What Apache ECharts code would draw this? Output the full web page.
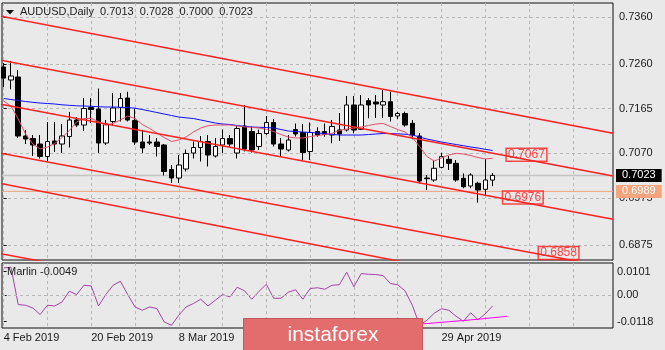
<!DOCTYPE html>
<html>
<head>
<meta charset="utf-8">
<script src="https://cdn.jsdelivr.net/npm/echarts@6/dist/echarts.min.js"></script>
<style>
  html, body { margin: 0; padding: 0; background: #e9e9e9; }
  #chart { width: 665px; height: 350px; }
</style>
</head>
<body>
<div id="chart"></div>
<script>
const symbolName = 'AUDUSD,Daily';

const dates = [
  '4 Feb 2019','5 Feb 2019','6 Feb 2019','7 Feb 2019','8 Feb 2019','11 Feb 2019','12 Feb 2019','13 Feb 2019','14 Feb 2019','15 Feb 2019',
  '18 Feb 2019','19 Feb 2019','20 Feb 2019','21 Feb 2019','22 Feb 2019','25 Feb 2019','26 Feb 2019','27 Feb 2019','28 Feb 2019',
  '1 Mar 2019','4 Mar 2019','5 Mar 2019','6 Mar 2019','7 Mar 2019','8 Mar 2019','11 Mar 2019','12 Mar 2019','13 Mar 2019','14 Mar 2019','15 Mar 2019',
  '18 Mar 2019','19 Mar 2019','20 Mar 2019','21 Mar 2019','22 Mar 2019','25 Mar 2019','26 Mar 2019','27 Mar 2019','28 Mar 2019','29 Mar 2019',
  '1 Apr 2019','2 Apr 2019','3 Apr 2019','4 Apr 2019','5 Apr 2019','8 Apr 2019','9 Apr 2019','10 Apr 2019','11 Apr 2019','12 Apr 2019',
  '15 Apr 2019','16 Apr 2019','17 Apr 2019','18 Apr 2019','19 Apr 2019','22 Apr 2019','23 Apr 2019','24 Apr 2019','25 Apr 2019','26 Apr 2019',
  '29 Apr 2019','30 Apr 2019','1 May 2019','2 May 2019','3 May 2019','6 May 2019','7 May 2019','8 May 2019'
];

// daily bars: open, close, low, high
const candles = [
  [0.72536,0.72300,0.72110,0.72620],[0.72260,0.72345,0.72062,0.72664],[0.72323,0.71068,0.71026,0.72472],
  [0.71068,0.71004,0.70898,0.71196],[0.71015,0.70877,0.70643,0.71089],[0.70898,0.70632,0.70589,0.71089],
  [0.70632,0.70951,0.70536,0.71366],[0.70962,0.70898,0.70728,0.71366],[0.70898,0.71068,0.70706,0.71323],
  [0.71057,0.71409,0.70823,0.71579],[0.71409,0.71302,0.71260,0.71472],[0.71302,0.71653,0.71174,0.71877],
  [0.71674,0.71632,0.71345,0.71877],[0.71643,0.70919,0.70706,0.72079],[0.70919,0.71323,0.70877,0.71409],
  [0.71377,0.71664,0.71291,0.71983],[0.71674,0.71866,0.71377,0.71983],[0.71877,0.71409,0.71377,0.72011],
  [0.71398,0.70940,0.70877,0.71653],[0.70940,0.70813,0.70706,0.71196],[0.70940,0.70919,0.70877,0.71089],
  [0.70940,0.70845,0.70632,0.71026],[0.70877,0.70313,0.70228,0.70898],[0.70355,0.70174,0.70068,0.70451],
  [0.70174,0.70451,0.70068,0.70664],[0.70366,0.70696,0.70313,0.70781],[0.70706,0.70823,0.70589,0.70951],
  [0.70823,0.70951,0.70525,0.71068],[0.70951,0.70664,0.70419,0.71089],[0.70643,0.70845,0.70611,0.71026],
  [0.70877,0.71015,0.70706,0.71206],[0.71015,0.70898,0.70840,0.71089],[0.70706,0.71228,0.70589,0.71281],
  [0.71281,0.70791,0.70738,0.71728],[0.71164,0.70770,0.70717,0.71270],[0.70845,0.71121,0.70770,0.71206],
  [0.71121,0.71355,0.71089,0.71494],[0.71355,0.70898,0.70845,0.71430],[0.70898,0.70791,0.70643,0.71026],
  [0.70770,0.70983,0.70738,0.71089],[0.71206,0.71111,0.71057,0.71334],[0.71143,0.70717,0.70547,0.71323],
  [0.70738,0.71143,0.70557,0.71355],[0.71164,0.71089,0.71053,0.71253],[0.71164,0.71100,0.71053,0.71334],
  [0.71089,0.71270,0.70913,0.71409],[0.71196,0.71111,0.70964,0.71557],[0.71196,0.71728,0.71164,0.71919],
  [0.71728,0.71196,0.71123,0.71919],[0.71211,0.71728,0.71196,0.71940],[0.71819,0.71728,0.71445,0.71877],
  [0.71791,0.71749,0.71451,0.71940],[0.71728,0.71798,0.71451,0.72047],[0.71798,0.71483,0.71377,0.72011],
  [0.71494,0.71547,0.71430,0.71579],[0.71547,0.71302,0.71266,0.71585],[0.71338,0.71089,0.71000,0.71409],
  [0.71068,0.70111,0.70057,0.71132],[0.70174,0.70160,0.69919,0.70238],[0.70132,0.70381,0.70096,0.70557],
  [0.70402,0.70628,0.70381,0.70713],[0.70572,0.70487,0.70345,0.70643],[0.70487,0.70132,0.70096,0.70557],
  [0.70168,0.69989,0.69955,0.70274],[0.70004,0.70238,0.69955,0.70274],[0.70062,0.69919,0.69649,0.70096],
  [0.69934,0.70132,0.69813,0.70579],[0.7013,0.7023,0.7000,0.7028]
];

// slow moving average (blue)
const maSlow = [
  0.71866,0.71845,0.71823,0.71802,0.71785,0.71770,0.71760,0.71749,0.71732,0.71721,
  0.71711,0.71706,0.71700,0.71691,0.71685,0.71685,0.71679,0.71674,0.71660,0.71632,
  0.71600,0.71568,0.71536,0.71504,0.71472,0.71455,0.71440,0.71409,0.71377,0.71345,
  0.71323,0.71313,0.71291,0.71274,0.71260,0.71253,0.71249,0.71238,0.71206,0.71174,
  0.71164,0.71153,0.71143,0.71132,0.71121,0.71104,0.71089,0.71089,0.71089,0.71089,
  0.71100,0.71111,0.71121,0.71121,0.71115,0.71106,0.71089,0.71047,0.71004,0.70972,
  0.70940,0.70913,0.70887,0.70862,0.70834,0.70813,0.70785,0.70760
];

// fast moving average (red)
const maFast = [
  0.71813,0.71706,0.71430,0.71111,0.70898,0.70792,0.70834,0.70909,0.71036,0.71185,
  0.71366,0.71440,0.71445,0.71372,0.71291,0.71338,0.71409,0.71494,0.71440,0.71313,
  0.71228,0.71132,0.71036,0.70951,0.70983,0.71047,0.71153,0.71238,0.71287,0.71302,
  0.71302,0.71302,0.71281,0.71260,0.71253,0.71238,0.71211,0.71164,0.71100,0.71047,
  0.71026,0.71026,0.71057,0.71079,0.71100,0.71126,0.71185,0.71217,0.71238,0.71260,
  0.71291,0.71323,0.71334,0.71270,0.71206,0.71153,0.71036,0.70845,0.70632,0.70536,
  0.70600,0.70664,0.70700,0.70685,0.70653,0.70611,0.70579,0.70594
];

// Marlin oscillator
const marlin = [
  0.01174,0.01205,-0.00429,-0.00460,-0.00578,-0.00867,-0.00460,-0.00491,-0.00315,0.00153,
  0.00009,0.00416,0.00385,-0.00491,0.00009,0.00416,0.00591,0.00009,-0.00534,-0.00679,
  -0.00534,-0.00604,-0.01191,-0.01336,-0.00898,-0.00534,-0.00385,-0.00197,-0.00491,-0.00241,
  0.00009,-0.00096,0.00329,0.00175,-0.00197,0.00153,0.00460,-0.00153,-0.00153,0.00110,
  0.00219,-0.00197,0.00272,0.00307,0.00241,0.00416,0.00438,0.00986,0.00350,0.00929,
  0.00898,0.00885,0.00841,0.00491,0.00438,0.00175,-0.00460,-0.01336,-0.01117,-0.00810,
  -0.00613,-0.00679,-0.00942,-0.01161,-0.00788,-0.01095,-0.00832,-0.0049
];
// Marlin signal line, from bar 57 onward (shifted two bars forward)
const marlinSignalStart = 57;
const marlinSignal = [-0.01283,-0.01261,-0.01235,-0.01205,-0.01183,-0.01152,-0.01130,-0.01099,-0.01073,-0.01038,-0.01007,-0.00977,-0.00942];

const priceTicks = [0.7360, 0.7260, 0.7165, 0.7070, 0.6975, 0.6875];
const marlinTicks = [0.0101, 0, -0.0118];
const dateLabelBars = [0, 12, 24, 36, 48, 60];
const gridBars = [0, 6, 12, 18, 24, 30, 36, 42, 48, 54, 60, 66, 72, 78];
const levelLine = 0.6989;

// channel lines, [bar, price] at each end
const channelA = [[-0.5, 0.73621], [83.5, 0.71126]];
const channelB = [[-0.5, 0.72685], [83.5, 0.70217]];
const channelC = [[-0.5, 0.71749], [83.5, 0.69296]];
const channelD = [[-0.5, 0.70706], [83.5, 0.68260]];
const channelD2 = [[-0.5, 0.70062], [83.5, 0.67515]];
const channelE = [[-0.5, 0.68568], [83.5, 0.66121]];
// price tags on the channel lines: [bar, price]
const channelTags = [[68.1, 0.7067], [67.6, 0.6976], [72.5, 0.6858]];

const FONT = "'Liberation Sans', Arial, sans-serif";
const xMin = -0.226, xMax = 83.5;
const dashStyle = { color: '#b8b8b8', type: [3, 3], width: 1 };
const last = candles[candles.length - 1];
const lastClose = last[1];

const chart = echarts.init(document.getElementById('chart'));

const channelSeries = [channelA, channelB, channelC, channelD, channelD2, channelE].map(pts => ({
  type: 'line', xAxisIndex: 0, yAxisIndex: 0, data: pts, showSymbol: false, symbol: 'none',
  lineStyle: { color: '#ff2020', width: 1.5 }, z: 4, silent: true, clip: true
}));

// horizontal price line with a boxed tag on the price scale
function priceLine(value, lineColor, lineWidth, tagColor) {
  return {
    type: 'line', xAxisIndex: 0, yAxisIndex: 0, data: [[xMin, value], [xMax, value]],
    showSymbol: false, symbol: 'none', silent: true, z: 1,
    lineStyle: { color: lineColor, width: lineWidth },
    endLabel: { show: true, distance: 3, formatter: () => value.toFixed(4),
      backgroundColor: tagColor, color: '#fff', padding: [1, 6, 0, 6], fontSize: 11, lineHeight: 12, fontFamily: FONT }
  };
}

chart.setOption({
  backgroundColor: '#e9e9e9',
  animation: false,
  textStyle: { fontFamily: FONT },
  grid: [
    { left: 2, right: 52, top: 3, height: 257, show: true, borderColor: '#111', borderWidth: 1 },
    { left: 2, right: 52, top: 263, height: 65, show: true, borderColor: '#111', borderWidth: 1 }
  ],
  xAxis: [
    { type: 'value', gridIndex: 0, min: xMin, max: xMax,
      axisLine: { show: false }, axisLabel: { show: false },
      axisTick: { show: false, customValues: gridBars },
      splitLine: { show: true, lineStyle: dashStyle } },
    { type: 'value', gridIndex: 1, min: xMin, max: xMax,
      axisLine: { show: false },
      axisTick: { show: false, customValues: gridBars },
      axisLabel: { show: true, customValues: dateLabelBars, formatter: v => dates[Math.round(v)] || '',
        align: 'left', margin: 4, fontSize: 11, color: '#1a1a1a', fontFamily: FONT },
      splitLine: { show: true, lineStyle: dashStyle } }
  ],
  yAxis: [
    { type: 'value', gridIndex: 0, position: 'right', min: 0.68430, max: 0.73898,
      axisLine: { show: false },
      axisTick: { show: true, customValues: priceTicks, length: 3, lineStyle: { color: '#111' } },
      axisLabel: { customValues: priceTicks, formatter: v => v.toFixed(4), fontSize: 11,
        color: '#1a1a1a', margin: 6, fontFamily: FONT },
      splitLine: { show: true, lineStyle: dashStyle } },
    { type: 'value', gridIndex: 1, position: 'right', min: -0.01456, max: 0.01391,
      axisLine: { show: false },
      axisTick: { show: true, customValues: marlinTicks, length: 3, lineStyle: { color: '#111' } },
      axisLabel: { customValues: marlinTicks, formatter: v => (Math.abs(v) < 1e-9 ? '0.00' : v.toFixed(4)),
        fontSize: 11, color: '#1a1a1a', margin: 4, fontFamily: FONT },
      splitLine: { show: false } }
  ],
  series: [
    priceLine(lastClose, '#c4c4c4', 1.5, '#000000'),
    priceLine(levelLine, '#f3a27e', 1, '#f7a47d'),
    { type: 'candlestick', xAxisIndex: 0, yAxisIndex: 0, barWidth: 5, z: 2,
      data: candles.map((c, i) => [i, c[0], c[1], c[2], c[3]]),
      itemStyle: { color: '#ffffff', color0: '#000000', borderColor: '#000000', borderColor0: '#000000', borderWidth: 1 } },
    { type: 'line', xAxisIndex: 0, yAxisIndex: 0, data: maSlow.map((v, i) => [i, v]), showSymbol: false, symbol: 'none',
      lineStyle: { color: '#1010ff', width: 1 }, z: 3, silent: true },
    { type: 'line', xAxisIndex: 0, yAxisIndex: 0, data: maFast.map((v, i) => [i, v]), showSymbol: false, symbol: 'none',
      lineStyle: { color: '#e4506c', width: 1 }, z: 3, silent: true },
    ...channelSeries,
    { type: 'scatter', xAxisIndex: 0, yAxisIndex: 0, data: channelTags, symbol: 'circle', symbolSize: 1,
      itemStyle: { color: 'rgba(0,0,0,0)' }, z: 5, silent: true,
      label: { show: true, position: 'right', distance: 5, formatter: p => p.value[1].toFixed(4),
        color: '#ff2020', fontSize: 12, fontFamily: FONT, borderColor: '#ff2020', borderWidth: 1.5,
        padding: [1, 2, 0, 2], lineHeight: 12 } },
    { type: 'line', xAxisIndex: 1, yAxisIndex: 1, data: marlin.map((v, i) => [i, v]), showSymbol: false, symbol: 'none',
      lineStyle: { color: '#a444a6', width: 1 }, z: 3, silent: true,
      markLine: { silent: true, symbol: ['none', 'none'], label: { show: false },
        lineStyle: { color: '#b8b8b8', type: [3, 3], width: 1 }, data: [{ yAxis: 0 }] } },
    { type: 'line', xAxisIndex: 1, yAxisIndex: 1, data: marlinSignal.map((v, k) => [marlinSignalStart + k, v]),
      showSymbol: false, symbol: 'none', lineStyle: { color: '#ff00ff', width: 1 }, z: 3, silent: true }
  ],
  graphic: [
    { type: 'polygon', shape: { points: [[6, 10], [14, 10], [10, 14.5]] }, style: { fill: '#111' }, z: 10 },
    { type: 'text', x: 20, y: 6, z: 10,
      style: { text: symbolName + '  ' + [last[0], last[3], last[2], last[1]].map(v => v.toFixed(4)).join('  '),
        font: '11px ' + FONT, fill: '#222' } },
    { type: 'text', x: 7, y: 266, z: 10,
      style: { text: 'Marlin ' + marlin[marlin.length - 1].toFixed(4), font: '11px ' + FONT, fill: '#222' } },
    { type: 'rect', z: 50, zlevel: 1, shape: { x: 243.5, y: 318.5, width: 179, height: 33 },
      style: { fill: '#e36c6c', stroke: '#bf5a5a', lineWidth: 1 } },
    { type: 'text', z: 51, zlevel: 1, x: 333, y: 335,
      style: { text: 'instaforex', font: '21px ' + FONT, fill: '#ffffff', textAlign: 'center', textVerticalAlign: 'middle' } }
  ]
});
</script>
</body>
</html>
